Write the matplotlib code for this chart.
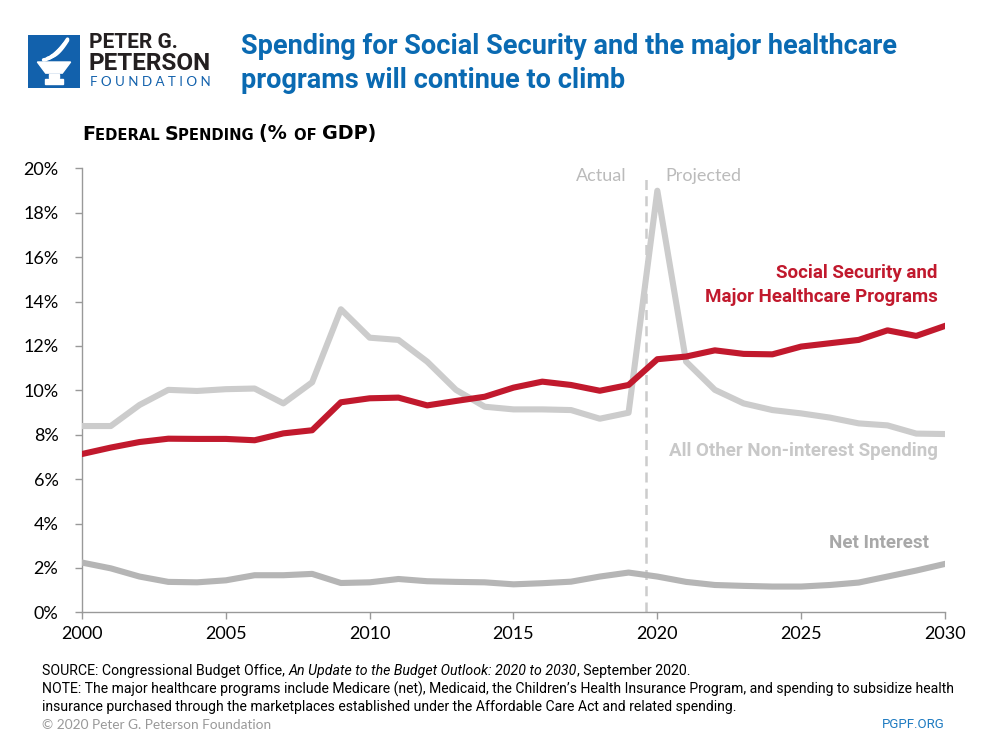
import matplotlib.pyplot as plt
from matplotlib.patches import Polygon, Rectangle
from matplotlib import font_manager
import numpy as np

years = list(range(2000, 2031))

ss_health = [7.13, 7.42, 7.67, 7.82, 7.81, 7.81, 7.75, 8.06, 8.20, 9.46,
             9.64, 9.67, 9.32, 9.52, 9.71, 10.12, 10.39, 10.24, 9.98, 10.24,
             11.40, 11.52, 11.80, 11.64, 11.62, 11.97, 12.12, 12.27, 12.70, 12.45,
             12.90]
other_spending = [8.39, 8.39, 9.34, 10.02, 9.97, 10.05, 10.08, 9.41, 10.36, 13.65,
                  12.37, 12.27, 11.29, 10.02, 9.26, 9.14, 9.14, 9.11, 8.72, 8.99,
                  18.99, 11.29, 10.02, 9.41, 9.11, 8.96, 8.77, 8.51, 8.42, 8.05,
                  8.03]
net_interest = [2.24, 1.98, 1.61, 1.37, 1.35, 1.44, 1.67, 1.67, 1.73, 1.32,
                1.35, 1.50, 1.40, 1.37, 1.35, 1.26, 1.31, 1.38, 1.61, 1.79,
                1.61, 1.37, 1.23, 1.19, 1.16, 1.16, 1.23, 1.34, 1.61, 1.88,
                2.18]

y_ticks = [0, 2, 4, 6, 8, 10, 12, 14, 16, 18, 20]
x_ticks = [2000, 2005, 2010, 2015, 2020, 2025, 2030]
split_year = 2019.62

RED = "#C1192D"
LIGHT = "#CCCCCC"
MID = "#B5B5B5"
BLUE = "#0A6AB2"

installed = {f.name for f in font_manager.fontManager.ttflist}
COND = ["Liberation Sans Narrow", "DejaVu Sans"] if "Liberation Sans Narrow" in installed \
    else ["Roboto", "DejaVu Sans"]
BODY = ["Lato", "DejaVu Sans"]
WIDE = ["DejaVu Sans"]

fig = plt.figure(figsize=(10, 7.5), dpi=100)
ax = fig.add_axes([0.082, 0.1836, 0.863, 0.592])

ax.plot(years, other_spending, color=LIGHT, linewidth=4.4, zorder=3)
ax.plot(years, net_interest, color=MID, linewidth=4.4, zorder=3)
ax.plot(years, ss_health, color=RED, linewidth=4.4, zorder=4)
ax.plot([split_year, split_year], [0, 19.55], color=LIGHT, linewidth=1.8,
        linestyle=(0, (4, 2.5)), zorder=2)

ax.set_xlim(2000, 2030)
ax.set_ylim(0, 20)
ax.set_xticks(x_ticks)
ax.set_xticklabels([str(t) for t in x_ticks], family=BODY, fontsize=13)
ax.set_yticks(y_ticks)
ax.set_yticklabels([f"{t}%" for t in y_ticks], family=BODY, fontsize=13)
ax.tick_params(axis="both", color="#999999", length=5, width=1, direction="out")
ax.tick_params(axis="y", pad=12)
ax.tick_params(axis="x", pad=5)
for s in ("top", "right"):
    ax.spines[s].set_visible(False)
for s in ("left", "bottom"):
    ax.spines[s].set_color("#999999")
    ax.spines[s].set_linewidth(1)

# series labels
ax.text(2029.74, 15.28, "Social Security and", color=RED, family=COND, fontsize=13.5,
        fontweight="bold", ha="right", va="center")
ax.text(2029.74, 14.2, "Major Healthcare Programs", color=RED, family=COND, fontsize=13.5,
        fontweight="bold", ha="right", va="center")
ax.text(2029.74, 7.27, "All Other Non-interest Spending", color="#C8C8C8", family=COND,
        fontsize=13.5, fontweight="bold", ha="right", va="center")
ax.text(2029.45, 3.13, "Net Interest", color="#A8A8A8", family=COND, fontsize=13.5,
        fontweight="bold", ha="right", va="center")
ax.text(2018.93, 19.66, "Actual", color="#BBBBBB", family=BODY, fontsize=13,
        ha="right", va="center")
ax.text(2020.29, 19.66, "Projected", color="#BBBBBB", family=BODY, fontsize=13,
        ha="left", va="center")

# title
fig.text(0.241, 1 - 47 / 750, "Spending for Social Security and the major healthcare",
         color=BLUE, family=COND, fontsize=19.5, fontweight="bold", va="center")
fig.text(0.241, 1 - 81 / 750, "programs will continue to climb",
         color=BLUE, family=COND, fontsize=19.5, fontweight="bold", va="center")

# small-caps axis title
pieces = [("F", 13.8), ("EDERAL ", 10.6), ("S", 13.8), ("PENDING ", 10.6),
          ("(% ", 13.8), ("OF ", 10.6), ("GDP)", 13.8)]
prev = fig.text(0.082, 1 - 143.5 / 750, pieces[0][0], fontsize=pieces[0][1],
                fontweight="bold", family=WIDE, va="bottom")
for txt, sz in pieces[1:]:
    prev = plt.annotate(txt, xy=(1, 0), xycoords=prev, fontsize=sz, fontweight="bold",
                        family=WIDE, va="bottom", ha="left", annotation_clip=False)

# footer
src = fig.text(0.042, 1 - 671 / 750, "SOURCE: Congressional Budget Office, ",
               family=COND, fontsize=10.2, va="center")
src2 = plt.annotate("An Update to the Budget Outlook: 2020 to 2030", xy=(1, 0.5), xycoords=src,
                    family=COND, fontsize=10.2, style="italic", va="center",
                    annotation_clip=False)
plt.annotate(", September 2020.", xy=(1, 0.5), xycoords=src2,
             family=COND, fontsize=10.2, va="center", annotation_clip=False)
fig.text(0.042, 1 - 689.5 / 750,
         "NOTE: The major healthcare programs include Medicare (net), Medicaid, the Children\u2019s "
         "Health Insurance Program, and spending to subsidize health",
         family=COND, fontsize=10.1, va="center")
fig.text(0.042, 1 - 706.5 / 750,
         "insurance purchased through the marketplaces established under the Affordable Care Act "
         "and related spending.", family=COND, fontsize=10.1, va="center")
fig.text(0.042, 1 - 725 / 750, "\u00a9 2020 Peter G. Peterson Foundation",
         family=BODY, fontsize=9.8, color="#999999", va="center")
fig.text(0.945, 1 - 725 / 750, "PGPF.ORG", family=COND, fontsize=9.5,
         color="#1F7BC1", va="center", ha="right")

# logo
lax = fig.add_axes([0.028, 0.8827, 0.052, 0.0707])
lax.set_xlim(0, 1)
lax.set_ylim(0, 1)
lax.axis("off")
lax.add_patch(Rectangle((0, 0), 1, 1, color="#1261AC"))
bowl = [(0.18, 0.49), (0.82, 0.49), (0.66, 0.28), (0.34, 0.28)]
lax.add_patch(Polygon(bowl, closed=True, color="white"))
lax.add_patch(Rectangle((0.40, 0.18), 0.2, 0.08, color="white"))
lax.add_patch(Rectangle((0.33, 0.08), 0.34, 0.08, color="white"))
t = np.linspace(0, 1, 30)
for x0, y0, dx, dy in [(0.30, 0.53, 0.40, 0.30), (0.38, 0.56, 0.38, 0.36), (0.46, 0.60, 0.30, 0.30)]:
    lax.plot(x0 + dx * t, y0 + dy * t ** 1.6, color="white", linewidth=2.6,
             solid_capstyle="round")
fig.text(0.089, 1 - 43 / 750, "PETER G.", family=COND, fontsize=15, fontweight="bold",
         color="#231F20", va="center")
fig.text(0.089, 1 - 63 / 750, "PETERSON", family=COND, fontsize=17.5, fontweight="bold",
         color="#231F20", va="center")
fig.text(0.090, 1 - 82 / 750, "F O U N D A T I O N", family=BODY, fontsize=9.6,
         color="#1261AC", va="center")

fig.savefig("out.png", dpi=100)
